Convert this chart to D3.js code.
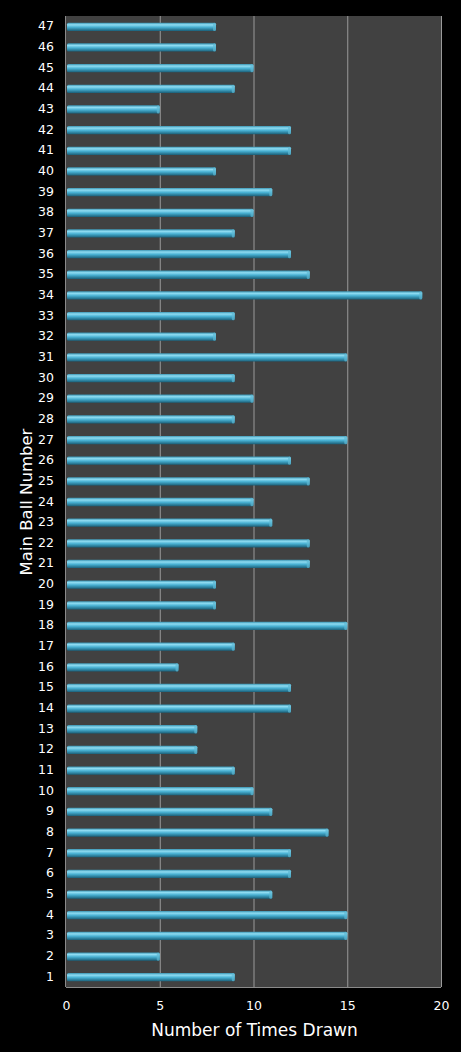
<!DOCTYPE html>
<html>
<head>
<meta charset="utf-8">
<script src="https://cdn.jsdelivr.net/npm/d3@7"></script>
<style>
  html, body { margin: 0; padding: 0; background: #000; }
  svg { display: block; }
  text { font-family: 'DejaVu Sans', Verdana, sans-serif; fill: #fff; }
</style>
</head>
<body>
<div class="container"></div>
<script>
const balls = d3.range(1, 48).map(String);
const timesDrawn = [
  9, 5, 15, 15, 11, 12, 12, 14, 11, 10,
  9, 7, 7, 12, 12, 6, 9, 15, 8, 8,
  13, 13, 11, 10, 13, 12, 15, 9, 10, 9,
  15, 8, 9, 19, 13, 12, 9, 10, 11, 8,
  12, 12, 5, 9, 10, 8, 8
];
const xTicks = [0, 5, 10, 15, 20];

const w = 461;
const h = 1052;
const margin = { top: 16, right: 20, bottom: 65, left: 66 };

const svg = d3
  .select('.container')
  .append('svg')
  .attr('width', w)
  .attr('height', h);

const defs = svg.append('defs');
const grad = defs
  .append('linearGradient')
  .attr('id', 'barGrad')
  .attr('x1', 0)
  .attr('y1', 0)
  .attr('x2', 0)
  .attr('y2', 1);
grad.append('stop').attr('offset', '0%').attr('stop-color', '#3a94b2');
grad.append('stop').attr('offset', '25%').attr('stop-color', '#8fdcf2');
grad.append('stop').attr('offset', '55%').attr('stop-color', '#48b0d2');
grad.append('stop').attr('offset', '100%').attr('stop-color', '#1a5f78');

const xScale = d3
  .scaleLinear()
  .domain([0, 20])
  .range([margin.left, w - margin.right]);

const yScale = d3
  .scaleBand()
  .domain(balls.slice().reverse())
  .range([margin.top, h - margin.bottom])
  .paddingInner(0.6)
  .paddingOuter(0.3);

// plot background
svg
  .append('rect')
  .attr('x', xScale(0))
  .attr('y', margin.top)
  .attr('width', xScale(20) - xScale(0))
  .attr('height', h - margin.bottom - margin.top)
  .style('fill', '#414141');

// gridlines
svg
  .append('g')
  .selectAll('line')
  .data(xTicks.slice(1))
  .enter()
  .append('line')
  .attr('x1', (d) => xScale(d) + 0.5)
  .attr('x2', (d) => xScale(d) + 0.5)
  .attr('y1', margin.top)
  .attr('y2', h - margin.bottom)
  .style('stroke', '#9a9a9a')
  .style('stroke-width', 1);

// axis lines
svg
  .append('line')
  .attr('x1', xScale(0) - 0.5)
  .attr('x2', xScale(0) - 0.5)
  .attr('y1', margin.top)
  .attr('y2', h - margin.bottom)
  .style('stroke', '#8a8a8a');
svg
  .append('line')
  .attr('x1', xScale(0))
  .attr('x2', xScale(20))
  .attr('y1', h - margin.bottom + 0.5)
  .attr('y2', h - margin.bottom + 0.5)
  .style('stroke', '#8a8a8a');

// bars
const barG = svg
  .selectAll('.bar')
  .data(timesDrawn)
  .enter()
  .append('g')
  .attr('class', 'bar');

barG
  .append('rect')
  .attr('x', xScale(0) + 1)
  .attr('y', (d, i) => yScale(balls[i]) + 0.5)
  .attr('width', (d) => xScale(d) - xScale(0) - 1)
  .attr('height', yScale.bandwidth())
  .attr('rx', 1.5)
  .style('fill', 'url(#barGrad)');

barG
  .append('rect')
  .attr('x', (d) => xScale(d) - 3)
  .attr('y', (d, i) => yScale(balls[i]) + 0.5)
  .attr('width', 3)
  .attr('height', yScale.bandwidth())
  .attr('rx', 1.5)
  .style('fill', '#5fb9d4')
  .style('opacity', 0.7);

// x axis
const xAxis = d3.axisBottom(xScale).tickValues(xTicks).tickSize(0).tickPadding(14);
svg
  .append('g')
  .attr('id', 'x-axis')
  .attr('transform', 'translate(0,' + (h - margin.bottom) + ')')
  .call(xAxis)
  .call((g) => g.select('.domain').remove())
  .selectAll('text')
  .style('font-size', '12.5px')
  .style('fill', '#fff');

// y axis
const yAxis = d3.axisLeft(yScale).tickSize(0).tickPadding(12);
svg
  .append('g')
  .attr('id', 'y-axis')
  .attr('transform', 'translate(' + margin.left + ',0)')
  .call(yAxis)
  .call((g) => g.select('.domain').remove())
  .selectAll('text')
  .style('font-size', '12.5px')
  .style('fill', '#fff');

svg
  .append('text')
  .attr('x', (xScale(0) + xScale(20)) / 2 + 1)
  .attr('y', h - 16)
  .attr('text-anchor', 'middle')
  .style('font-size', '17px')
  .text('Number of Times Drawn');

svg
  .append('text')
  .attr('transform', 'rotate(-90)')
  .attr('x', -502)
  .attr('y', 32)
  .attr('text-anchor', 'middle')
  .style('font-size', '16.5px')
  .text('Main Ball Number');
</script>
</body>
</html>
